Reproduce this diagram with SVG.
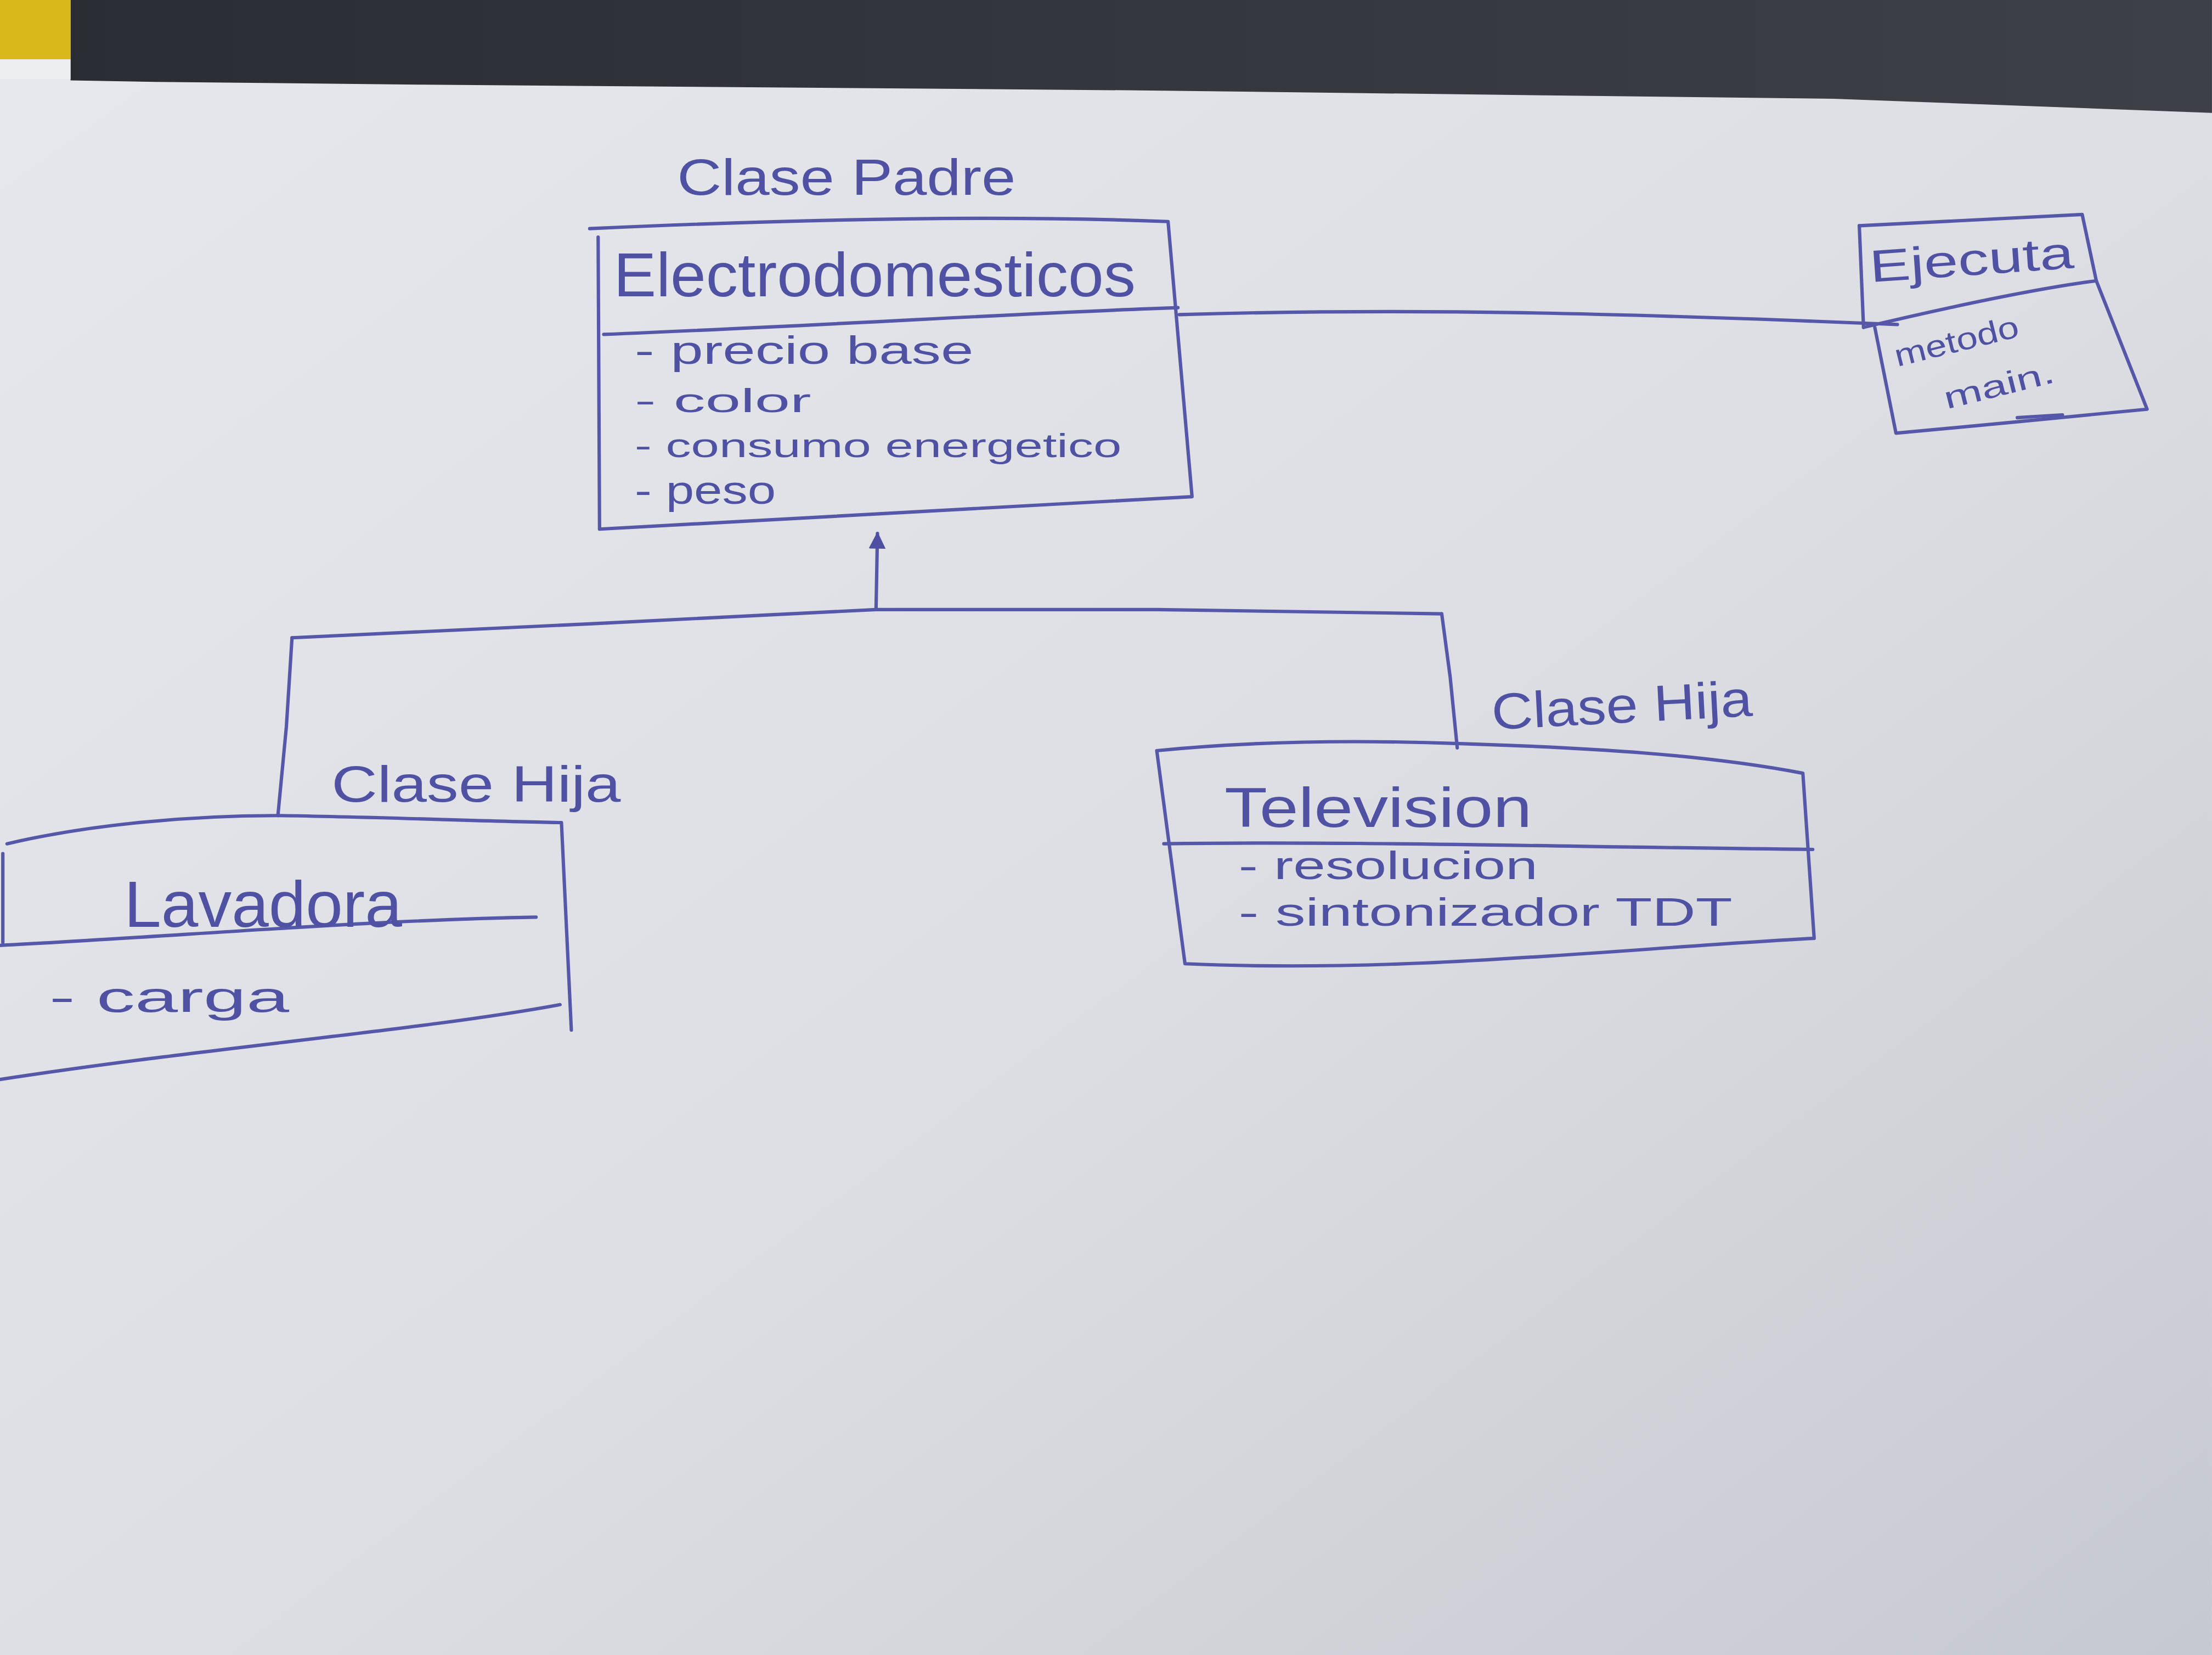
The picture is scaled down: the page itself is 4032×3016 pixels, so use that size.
<svg xmlns="http://www.w3.org/2000/svg" width="4032" height="3016" viewBox="0 0 4032 3016">
<defs>
<linearGradient id="paper" x1="0" y1="0" x2="1" y2="1">
<stop offset="0" stop-color="#e6e8ec"/>
<stop offset="0.55" stop-color="#dcdee3"/>
<stop offset="1" stop-color="#c6c9cf"/>
</linearGradient>
<linearGradient id="band" x1="0" y1="0" x2="1" y2="0">
<stop offset="0" stop-color="#2a2d33"/>
<stop offset="1" stop-color="#3d4046"/>
</linearGradient>
<marker id="tri" viewBox="0 0 10 10" refX="9" refY="5" markerWidth="5" markerHeight="5" orient="auto">
<path d="M0,0 L10,5 L0,10 z" fill="#4d4fa3"/>
</marker>
</defs>
<style>
.pen{fill:none;stroke:#5557a8;stroke-width:2.4;stroke-linecap:round;stroke-linejoin:round}
.t{font-family:"Liberation Sans","DejaVu Sans",sans-serif;fill:#4f51a3}
</style>
<g transform="scale(2.5714)">
<rect x="0" y="0" width="1568" height="1173" fill="url(#paper)"/>
<polygon points="50,0 1568,0 1568,80 1300,70 800,64 300,60 110,58 50,57" fill="url(#band)"/>
<rect x="0" y="0" width="50" height="42" fill="#d9b81c"/>
<rect x="0" y="42" width="50" height="14" fill="#eceef0"/>

<g id="connectors">
<path class="pen" d="M836,223 C1000,218 1150,222 1345,230"/>
<path class="pen" d="M621,432 L622,378" marker-end="url(#tri)"/>
<path class="pen" d="M207,452 L420,442 L621,432 L820,432 L1022,435"/>
<path class="pen" d="M207,452 L203,515 L197,578"/>
<path class="pen" d="M1022,435 L1028,480 L1033,530"/>
</g>

<g id="label-padre"><text class="t" x="480" y="138" font-size="36" textLength="240" lengthAdjust="spacingAndGlyphs">Clase Padre</text></g>

<g id="electrodomesticos">
<path class="pen" d="M418,162 C550,156 700,152 828,157 L845,352 C700,360 560,368 425,375 L424,168"/>
<path class="pen" d="M428,237 C600,230 720,222 835,218"/>
<text class="t" x="435" y="210" font-size="44" textLength="370" lengthAdjust="spacingAndGlyphs">Electrodomesticos</text>
<text class="t" x="450" y="258" font-size="28" textLength="240" lengthAdjust="spacingAndGlyphs">- precio base</text>
<text class="t" x="450" y="292" font-size="24" textLength="125" lengthAdjust="spacingAndGlyphs">- color</text>
<text class="t" x="450" y="324" font-size="24" textLength="345" lengthAdjust="spacingAndGlyphs">- consumo energetico</text>
<text class="t" x="450" y="357" font-size="28" textLength="100" lengthAdjust="spacingAndGlyphs">- peso</text>
</g>

<g id="ejecuta">
<path class="pen" d="M1318,160 L1476,152 L1486,199 L1522,290 C1470,295 1400,302 1344,307 L1329,232"/>
<path class="pen" d="M1318,160 L1321,232"/>
<path class="pen" d="M1321,232 C1380,218 1440,205 1486,199"/>
<path class="pen" d="M1430,296 L1462,294"/>
<text class="t" x="1326" y="200" font-size="32" textLength="145" lengthAdjust="spacingAndGlyphs" transform="rotate(-4 1326 200)">Ejecuta</text>
<text class="t" x="1345" y="260" font-size="22" textLength="90" lengthAdjust="spacingAndGlyphs" transform="rotate(-14 1345 260)">metodo</text>
<text class="t" x="1380" y="290" font-size="22" textLength="80" lengthAdjust="spacingAndGlyphs" transform="rotate(-14 1380 290)">main.</text>
</g>

<g id="label-hija-1"><text class="t" x="235" y="568" font-size="36" textLength="205" lengthAdjust="spacingAndGlyphs">Clase Hija</text></g>
<g id="label-hija-2"><text class="t" x="1058" y="517" font-size="36" textLength="185" lengthAdjust="spacingAndGlyphs" transform="rotate(-3 1058 517)">Clase Hija</text></g>

<g id="lavadora">
<path class="pen" d="M5,598 C60,585 130,578 197,578 C270,579 340,582 398,583 L405,730"/>
<path class="pen" d="M2,605 L2,668"/>
<path class="pen" d="M0,670 C120,664 260,652 380,650"/>
<path class="pen" d="M0,765 C150,742 300,730 397,712"/>
<text class="t" x="88" y="657" font-size="46" textLength="197" lengthAdjust="spacingAndGlyphs">Lavadora</text>
<text class="t" x="35" y="717" font-size="30" textLength="170" lengthAdjust="spacingAndGlyphs">- carga</text>
</g>

<g id="television">
<path class="pen" d="M820,532 C900,524 980,525 1035,527 C1130,530 1210,535 1278,548 L1286,665 C1150,672 1000,690 840,683 L820,532"/>
<path class="pen" d="M825,598 C950,596 1100,600 1285,602"/>
<text class="t" x="868" y="586" font-size="40" textLength="218" lengthAdjust="spacingAndGlyphs">Television</text>
<text class="t" x="878" y="623" font-size="28" textLength="212" lengthAdjust="spacingAndGlyphs">- resolucion</text>
<text class="t" x="878" y="656" font-size="28" textLength="350" lengthAdjust="spacingAndGlyphs">- sintonizador TDT</text>
</g>
</g>
</svg>
